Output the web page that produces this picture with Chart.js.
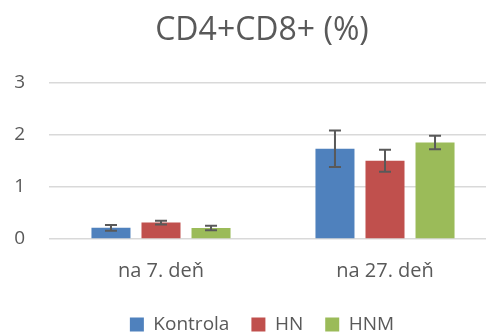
<!DOCTYPE html>
<html>
<head>
<meta charset="utf-8">
<script src="https://cdn.jsdelivr.net/npm/chart.js@4/dist/chart.umd.min.js"></script>
<style>
  html, body { margin: 0; padding: 0; background: #fff; overflow: hidden; }
  #wrap { position: relative; width: 510px; height: 344px; }
</style>
</head>
<body>
<div id="wrap"><canvas id="c"></canvas></div>
<script>
const categories = ['na 7. deň', 'na 27. deň'];
const seriesNames = ['Kontrola', 'HN', 'HNM'];
const kontrola = [0.215, 1.73];
const kontrolaErr = [0.055, 0.35];
const hn = [0.315, 1.50];
const hnErr = [0.035, 0.21];
const hnm = [0.21, 1.85];
const hnmErr = [0.043, 0.13];
const yTicks = [0, 1, 2, 3];

const textColor = '#595959';
const fontFamily = '"Open Sans", "DejaVu Sans", sans-serif';

const errorBars = {
  id: 'errorBars',
  afterLayout(chart) {
    // let y tick labels extend left of the axis box without being clipped
    chart.scales.y.left = 0;
  },
  afterDatasetsDraw(chart) {
    const ctx = chart.ctx;
    const yScale = chart.scales.y;
    ctx.save();
    ctx.strokeStyle = '#595959';
    ctx.lineWidth = 2;
    chart.data.datasets.forEach((ds, di) => {
      const meta = chart.getDatasetMeta(di);
      meta.data.forEach((bar, i) => {
        const v = ds.data[i];
        const e = ds.errors[i];
        const x = bar.x;
        const yTop = yScale.getPixelForValue(v + e);
        const yBot = yScale.getPixelForValue(v - e);
        const cap = 6;
        ctx.beginPath();
        ctx.moveTo(x, yTop); ctx.lineTo(x, yBot);
        ctx.moveTo(x - cap, yTop); ctx.lineTo(x + cap, yTop);
        ctx.moveTo(x - cap, yBot); ctx.lineTo(x + cap, yBot);
        ctx.stroke();
      });
    });
    ctx.restore();
  }
};

new Chart(document.getElementById('c'), {
  type: 'bar',
  data: {
    labels: categories,
    datasets: [
      { label: seriesNames[0], data: kontrola, errors: kontrolaErr, backgroundColor: '#4f81bd' },
      { label: seriesNames[1], data: hn, errors: hnErr, backgroundColor: '#c0504d' },
      { label: seriesNames[2], data: hnm, errors: hnmErr, backgroundColor: '#9bbb59' }
    ]
  },
  options: {
    responsive: true,
    maintainAspectRatio: false,
    animation: false,
    devicePixelRatio: 1,
    layout: { padding: { left: 27, right: 13, top: 0, bottom: 0 } },
    datasets: { bar: { categoryPercentage: 0.67, barPercentage: 0.78 } },
    scales: {
      x: {
        grid: { display: false, drawTicks: false },
        border: { display: false },
        ticks: { color: textColor, font: { family: fontFamily, size: 20 }, padding: 20 },
        afterFit(scale) { scale.height = 54; }
      },
      y: {
        min: 0, max: 3,
        afterBuildTicks(scale) { scale.ticks = yTicks.map(v => ({ value: v })); },
        grid: { color: '#d9d9d9', lineWidth: 1.5, drawTicks: false },
        border: { display: false },
        ticks: { color: textColor, font: { family: fontFamily, size: 19 }, padding: 24 },
        afterFit(scale) { scale.width = 22; }
      }
    },
    plugins: {
      title: {
        display: true,
        text: 'CD4+CD8+ (%)',
        color: textColor,
        font: { family: fontFamily, size: 32, weight: 'normal' },
        padding: { top: 12, bottom: 32 }
      },
      legend: {
        position: 'bottom',
        labels: {
          color: textColor,
          font: { family: fontFamily, size: 19 },
          boxWidth: 14, boxHeight: 14,
          padding: 22
        }
      },
      tooltip: { enabled: false }
    }
  },
  plugins: [errorBars]
});
</script>
</body>
</html>
